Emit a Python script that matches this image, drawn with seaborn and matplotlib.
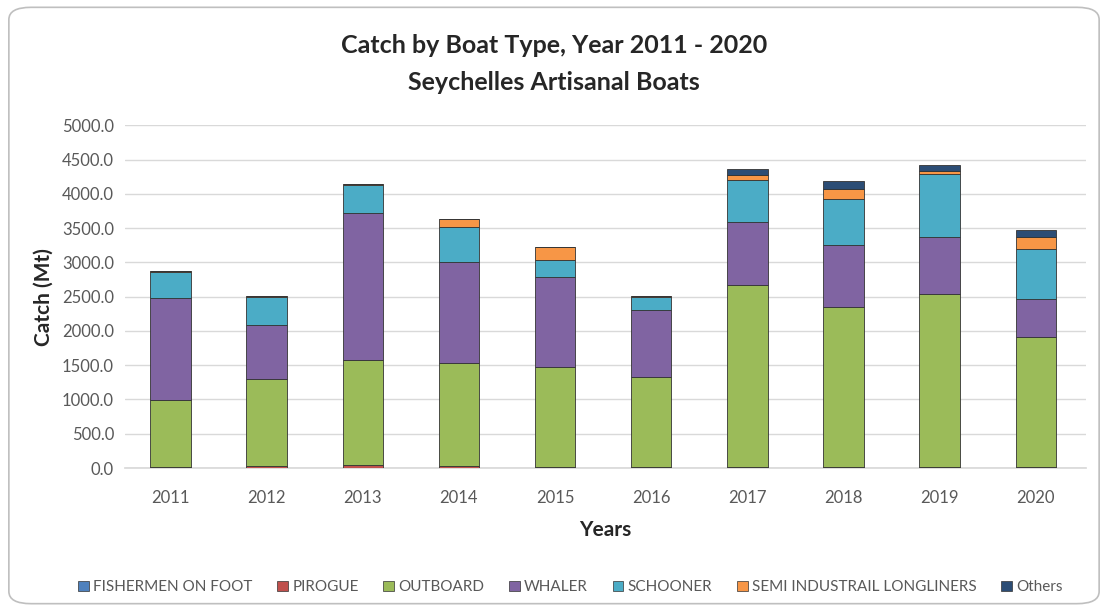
import numpy as np
import pandas as pd
import matplotlib
matplotlib.use("Agg")
import matplotlib.pyplot as plt
from matplotlib.patches import FancyBboxPatch
from matplotlib.ticker import FormatStrFormatter
import seaborn as sns

# Catch (Mt) per boat type
years = [2011, 2012, 2013, 2014, 2015, 2016, 2017, 2018, 2019, 2020]
fishermen_on_foot = [5, 5, 5, 5, 5, 5, 5, 5, 5, 5]
pirogue = [10, 25, 35, 30, 10, 10, 5, 5, 5, 5]
outboard = [975, 1275, 1535, 1490, 1460, 1315, 2655, 2340, 2535, 1900]
whaler = [1484, 778, 2138, 1482, 1312, 972, 923, 899, 826, 560]
schooner = [388, 412, 413, 510, 243, 194, 607, 680, 924, 728]
semi_industrial = [15, 15, 20, 122, 194, 20, 73, 146, 38, 170]
others = [0, 0, 0, 0, 0, 0, 98, 112, 83, 97]

types = ["FISHERMEN ON FOOT", "PIROGUE", "OUTBOARD", "WHALER", "SCHOONER",
         "SEMI INDUSTRAIL LONGLINERS", "Others"]
colors = ["#4F81BD", "#C0504D", "#9BBB59", "#8064A2", "#4BACC6", "#F79646", "#2C4D75"]

series = [fishermen_on_foot, pirogue, outboard, whaler, schooner, semi_industrial, others]
df = pd.concat([pd.DataFrame({"Year": years, "Type": t, "Catch": v})
                for t, v in zip(types, series)], ignore_index=True)

sns.set_theme(style="white")
plt.rcParams["font.family"] = ["Lato", "DejaVu Sans"]

fig, ax = plt.subplots(figsize=(11.08, 6.11), dpi=100)
fig.subplots_adjust(left=0.113, right=0.98, top=0.795, bottom=0.234)

# seaborn stacks the first hue level on top, so pass the order reversed
sns.histplot(data=df, x="Year", weights="Catch", hue="Type",
             hue_order=types[::-1], palette=colors[::-1],
             multiple="stack", discrete=True, shrink=0.42, legend=False,
             alpha=1, edgecolor="#333333", linewidth=0.6, ax=ax, zorder=3)

ax.set_ylim(0, 5000)
ax.set_xlim(2010.53, 2020.52)
ax.set_yticks(np.arange(0, 5001, 500))
ax.yaxis.set_major_formatter(FormatStrFormatter("%.1f"))
ax.set_xticks(years)
ax.set_xticklabels([str(y) for y in years])
ax.tick_params(axis="y", labelsize=12, colors="#595959", length=0, pad=8)
ax.tick_params(axis="x", labelsize=12, colors="#595959", length=0, pad=16)
ax.grid(axis="y", color="#D9D9D9", linewidth=1, zorder=0)
ax.set_axisbelow(True)
for s in ["top", "right", "left"]:
    ax.spines[s].set_visible(False)
ax.spines["bottom"].set_color("#D9D9D9")

ax.set_xlabel("Years", fontsize=15, fontweight="bold", labelpad=10)
ax.set_ylabel("Catch (Mt)", fontsize=15, fontweight="bold", labelpad=6)
fig.suptitle("Catch by Boat Type, Year 2011 - 2020\nSeychelles Artisanal Boats",
             fontsize=18, fontweight="bold", y=0.945, linespacing=1.75)

# legend in the original order along the bottom
handles = [plt.Rectangle((0, 0), 1, 1, facecolor=c, edgecolor="#333333", linewidth=0.5)
           for c in colors]
fig.legend(handles, types, loc="lower center", bbox_to_anchor=(0.515, 0.005), ncol=7,
           frameon=False, fontsize=11, handlelength=0.7, handleheight=0.7,
           handletextpad=0.3, columnspacing=1.6, labelcolor="#595959")

# rounded chart border
border = FancyBboxPatch((0.008, 0.012), 0.984, 0.976, boxstyle="round,pad=0,rounding_size=0.02",
                        transform=fig.transFigure, facecolor="none",
                        edgecolor="#BFBFBF", linewidth=1.2)
fig.patches.append(border)

fig.savefig("out.png", dpi=100)
